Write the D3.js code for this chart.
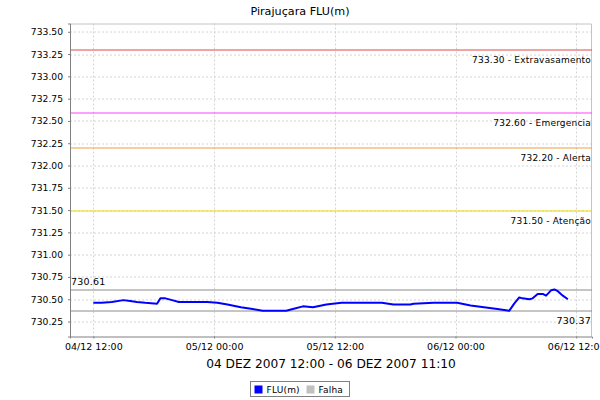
<!DOCTYPE html>
<html>
<head>
<meta charset="utf-8">
<script src="https://cdn.jsdelivr.net/npm/d3@7"></script>
<style>
  html, body { margin: 0; padding: 0; background: #ffffff; }
  svg { display: block; font-family: "DejaVu Sans", sans-serif; }
</style>
</head>
<body>
<svg id="chart" width="600" height="400"></svg>
<script>
// ---- data ----
const chartTitle = "Pirajuçara FLU(m)";
const periodLabel = "04 DEZ 2007 12:00 - 06 DEZ 2007 11:10";
const times = [
  "2007-12-04 12:00","2007-12-04 12:50","2007-12-04 13:50","2007-12-04 15:00",
  "2007-12-04 15:40","2007-12-04 16:20","2007-12-04 17:10","2007-12-04 18:20",
  "2007-12-04 18:40","2007-12-04 19:10","2007-12-04 19:50","2007-12-04 20:30",
  "2007-12-04 23:20","2007-12-05 00:20","2007-12-05 01:20","2007-12-05 02:40",
  "2007-12-05 03:50","2007-12-05 04:50","2007-12-05 07:10","2007-12-05 07:50",
  "2007-12-05 08:50","2007-12-05 09:50","2007-12-05 11:10","2007-12-05 12:40",
  "2007-12-05 16:40","2007-12-05 17:50","2007-12-05 19:30","2007-12-05 19:50",
  "2007-12-05 21:50","2007-12-06 00:10","2007-12-06 01:30","2007-12-06 02:50",
  "2007-12-06 04:10","2007-12-06 05:20","2007-12-06 05:50","2007-12-06 06:20",
  "2007-12-06 06:40","2007-12-06 07:20","2007-12-06 07:40","2007-12-06 08:10",
  "2007-12-06 08:40","2007-12-06 09:00","2007-12-06 09:30","2007-12-06 09:50",
  "2007-12-06 10:10","2007-12-06 10:40","2007-12-06 11:10"
];
const levels = [
  730.46, 730.46, 730.47, 730.49,
  730.48, 730.47, 730.46, 730.45,
  730.51, 730.51, 730.49, 730.47,
  730.47, 730.46, 730.44, 730.41,
  730.39, 730.37, 730.37, 730.39,
  730.42, 730.41, 730.44, 730.46,
  730.46, 730.44, 730.44, 730.45,
  730.46, 730.46, 730.43, 730.41,
  730.39, 730.37, 730.45, 730.52,
  730.51, 730.50, 730.51, 730.56,
  730.56, 730.54, 730.60, 730.61,
  730.59, 730.54, 730.50
];
const thresholdValues = [733.30, 732.60, 732.20, 731.50];
const thresholdNames  = ["Extravasamento", "Emergencia", "Alerta", "Atenção"];
const thresholdColors = ["#e04848", "#ff40ff", "#f0a040", "#f0dc00"];
const yTickValues = [730.25, 730.50, 730.75, 731.00, 731.25, 731.50, 731.75,
                     732.00, 732.25, 732.50, 732.75, 733.00, 733.25, 733.50];
const yDomain = [730.082, 733.593];
const xDomain = ["2007-12-04 09:41", "2007-12-06 13:34"];
const legendNames = ["FLU(m)", "Falha"];
const legendColors = ["#0000ff", "#c0c0c0"];

// ---- layout ----
const svg = d3.select("#chart");
const W = 600, H = 400;
const m = { left: 70, right: 8, top: 23.5, bottom: 63.5 };
const pw = W - m.left - m.right, ph = H - m.top - m.bottom;
const parse = d3.timeParse("%Y-%m-%d %H:%M");
const data = times.map((t, i) => ({ t: parse(t), v: levels[i] }));

const x = d3.scaleTime().domain(xDomain.map(parse)).range([0, pw]);
const y = d3.scaleLinear().domain(yDomain).range([ph, 0]);

svg.append("rect").attr("width", W).attr("height", H).attr("fill", "#fff");

const g = svg.append("g").attr("transform", `translate(${m.left},${m.top})`);

const xTicks = x.ticks(d3.timeHour.every(12));

// gridlines
g.append("g").selectAll("line").data(yTickValues).join("line")
  .attr("x1", 0).attr("x2", pw)
  .attr("y1", d => Math.round(y(d)) + 0.5).attr("y2", d => Math.round(y(d)) + 0.5)
  .attr("stroke", "#d4d4d4").attr("stroke-dasharray", "2,2");
g.append("g").selectAll("line").data(xTicks).join("line")
  .attr("x1", d => Math.round(x(d)) + 0.5).attr("x2", d => Math.round(x(d)) + 0.5)
  .attr("y1", 0).attr("y2", ph)
  .attr("stroke", "#d4d4d4").attr("stroke-dasharray", "2,2");

// top/right border
g.append("path").attr("d", `M0,0.5H${pw - 0.5}V${ph}`)
  .attr("fill", "none").attr("stroke", "#c4c4c4");

// threshold lines
const thr = g.append("g");
thresholdValues.forEach((v, i) => {
  const yy = Math.round(y(v)) + 0.5;
  thr.append("line").attr("x1", 0).attr("x2", pw).attr("y1", yy).attr("y2", yy)
    .attr("stroke", thresholdColors[i]).attr("stroke-width", 1);
  thr.append("text").attr("x", pw - 1).attr("y", yy + 12.5)
    .attr("text-anchor", "end").attr("font-size", 9).attr("fill", "#000")
    .attr("letter-spacing", 0.2)
    .text(`${v.toFixed(2)} - ${thresholdNames[i]}`);
});

// max / min lines
const vMax = d3.max(levels), vMin = d3.min(levels);
[vMax, vMin].forEach((v, i) => {
  const yy = Math.round(y(v)) + 0.5;
  g.append("line").attr("x1", 0).attr("x2", pw).attr("y1", yy).attr("y2", yy)
    .attr("stroke", "#8c8c8c");
  if (i === 0) {
    g.append("text").attr("x", 1).attr("y", yy - 5).attr("font-size", 9.5)
      .attr("letter-spacing", 0.2).text(v.toFixed(2));
  } else {
    g.append("text").attr("x", pw - 1).attr("y", yy + 13).attr("font-size", 9.5)
      .attr("text-anchor", "end").attr("letter-spacing", 0.2).text(v.toFixed(2));
  }
});

// data line
g.append("path").datum(data)
  .attr("fill", "none").attr("stroke", "#0000ff").attr("stroke-width", 2)
  .attr("stroke-linejoin", "round")
  .attr("d", d3.line().x(d => x(d.t)).y(d => y(d.v)));

// axes
const yAxis = g.append("g").call(
  d3.axisLeft(y).tickValues(yTickValues).tickFormat(d3.format(".2f"))
    .tickSize(2).tickPadding(5));
const xAxis = g.append("g").attr("transform", `translate(0,${ph})`).call(
  d3.axisBottom(x).tickValues(xTicks).tickFormat(d3.timeFormat("%d/%m %H:%M"))
    .tickSize(2).tickPadding(5));
[yAxis, xAxis].forEach(a => {
  a.select(".domain").attr("stroke", "#808080");
  a.selectAll(".tick line").attr("stroke", "#808080");
  a.selectAll("text").attr("font-family", "DejaVu Sans, sans-serif")
    .attr("font-size", 9.5).attr("fill", "#000");
});
yAxis.selectAll("text").attr("font-size", 9.2);

// title
svg.append("text").attr("x", W / 2).attr("y", 14.5).attr("text-anchor", "middle")
  .attr("font-size", 11.2).attr("fill", "#000").text(chartTitle);
svg.append("text").attr("x", m.left + pw / 2).attr("y", 368).attr("text-anchor", "middle")
  .attr("font-size", 12.2).attr("fill", "#000").text(periodLabel);

// legend
const lg = svg.append("g");
lg.append("rect").attr("x", 250.5).attr("y", 381.5).attr("width", 99).attr("height", 15)
  .attr("fill", "#fff").attr("stroke", "#808080");
const legendX = [254.5, 306.5];
legendNames.forEach((n, i) => {
  lg.append("rect").attr("x", legendX[i]).attr("y", 385.5).attr("width", 8).attr("height", 8)
    .attr("fill", legendColors[i]);
  lg.append("text").attr("x", legendX[i] + 12).attr("y", 393).attr("font-size", 9)
    .attr("fill", "#000").attr("letter-spacing", 0.2).text(n);
});
</script>
</body>
</html>
